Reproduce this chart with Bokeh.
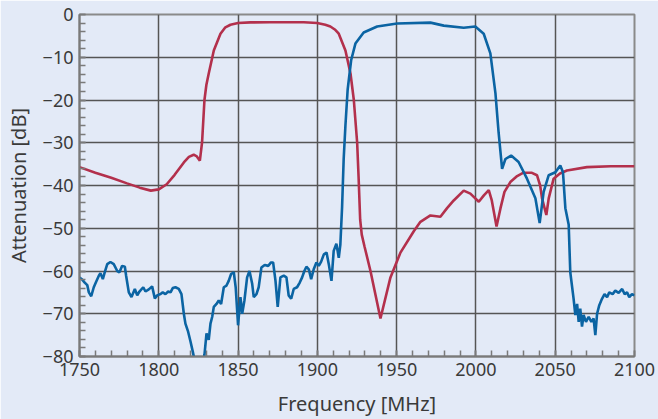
from bokeh.plotting import figure
from bokeh.models import Range1d, FixedTicker
from bokeh.embed import file_html
from bokeh.resources import INLINE

# ---- data ----
x_ticks = [1750, 1800, 1850, 1900, 1950, 2000, 2050, 2100]
y_ticks = [-80, -70, -60, -50, -40, -30, -20, -10, 0]

red_freq = [1750, 1760, 1770, 1780, 1788, 1795, 1800, 1805, 1810, 1815.8, 1819, 1822, 1824,
            1825.9, 1827.3, 1828.8, 1830, 1831.5, 1834.7, 1838.9, 1842, 1845.2, 1850, 1857.8,
            1870, 1891.4, 1899.9, 1905, 1908.2, 1911, 1913.5, 1917.7, 1920.9, 1923, 1925.1,
            1926, 1927, 1928, 1929.7, 1933.5, 1939.8, 1946.1, 1952.4, 1960.8, 1965, 1971.3,
            1977.6, 1981.8, 1986, 1992.3, 1996.5, 2001.8, 2005, 2008.1, 2010, 2013, 2015.5,
            2018, 2021.7, 2026, 2030, 2035, 2038.5, 2040.5, 2041.7, 2044.4, 2045.9, 2049,
            2053, 2057.4, 2070, 2085, 2100]
red_db = [-35.7, -37.0, -38.2, -39.5, -40.5, -41.2, -40.9, -39.7, -37.5, -34.6, -33.3, -32.8, -33.2,
          -34.2, -29.9, -20.0, -16.5, -13.8, -8.4, -4.5, -3.0, -2.4, -2.0, -1.85,
          -1.8, -1.8, -2.0, -2.4, -2.8, -3.5, -4.5, -8.4, -13.8, -20.0, -30.0,
          -38.0, -48.0, -51.5, -54.2, -60.0, -71.1, -61.5, -55.7, -50.7, -48.5, -47.0,
          -47.3, -45.3, -43.5, -41.2, -41.9, -43.8, -42.3, -41.1, -43.5, -49.6, -45.3,
          -41.5, -39.2, -37.8, -37.0, -37.0, -37.6, -40.0, -43.0, -46.9, -43.0, -38.4,
          -37.2, -36.5, -35.7, -35.5, -35.5]

blue_freq = [1750.0, 1751.7, 1753.3, 1754.9, 1755.9, 1757.4, 1759.0, 1760.5, 1762.2, 1763.2,
             1764.7, 1765.9, 1767.5, 1769.5, 1771.6, 1773.8, 1775.2, 1776.9, 1778.6, 1779.4,
             1781.1, 1782.8, 1784.9, 1786.4, 1787.8, 1790.2, 1791.6, 1793.7, 1795.8, 1797.5,
             1799.0, 1801.1, 1802.5, 1804.2, 1805.9, 1807.4, 1808.8, 1810.5, 1812.6, 1814.3,
             1815.8, 1816.8, 1818.5, 1820.0, 1821.4, 1822.7, 1825.0, 1828.4, 1828.8, 1830.1,
             1831.5, 1832.6, 1833.7, 1834.7, 1836.4, 1837.8, 1839.3, 1841.0, 1842.7, 1844.1,
             1845.6, 1847.3, 1848.5, 1850.0, 1851.5, 1852.6, 1854.0, 1855.7, 1857.2, 1858.9,
             1859.9, 1861.6, 1863.0, 1864.7, 1866.8, 1869.0, 1870.8, 1872.1, 1873.6, 1875.0,
             1876.7, 1878.8, 1880.5, 1881.9, 1883.5, 1885.1, 1887.2, 1888.9, 1890.4, 1891.8,
             1893.1, 1894.6, 1896.1, 1897.7, 1899.4, 1900.9, 1902.4, 1904.1, 1905.8, 1907.2,
             1908.9, 1910.3, 1912.0, 1913.5, 1914.5, 1915.6, 1916.6, 1917.7, 1919.1, 1921.3,
             1924.0, 1929.2, 1937.7, 1950.3, 1971.3, 1979.7, 1992.3, 1999.6, 2004.9, 2009.1,
             2012.3, 2014.3, 2016.5, 2018.6, 2022.2, 2026.9, 2032.2, 2037.5, 2040.2, 2042.7,
             2045.9, 2050.1, 2053.2, 2054.9, 2056.4, 2058.5, 2059.5, 2061.6, 2062.7, 2063.8,
             2064.8, 2065.8, 2066.9, 2067.9, 2069.4, 2071.1, 2072.8, 2074.2, 2075.3, 2076.4,
             2077.8, 2079.5, 2081.1, 2082.7, 2084.1, 2086.2, 2087.9, 2090.0, 2092.2, 2093.8,
             2095.3, 2096.7, 2098.4, 2100.0]
blue_db = [-61.5, -62.0, -62.7, -63.3, -65.0, -65.9, -63.8, -62.5, -61.1, -60.5,
           -61.9, -60.3, -58.4, -57.9, -58.4, -60.0, -60.3, -58.8, -59.0, -61.1,
           -65.0, -66.1, -64.2, -65.7, -64.8, -63.8, -64.8, -64.3, -63.6, -66.4,
           -65.7, -65.4, -65.0, -65.4, -64.8, -65.0, -64.0, -63.8, -64.2, -65.4,
           -70.0, -72.3, -74.2, -76.5, -78.8, -81.1, -83.0, -80.5, -79.6, -74.6,
           -76.1, -72.3, -70.7, -68.4, -67.7, -66.9, -67.7, -63.8, -63.4, -62.3,
           -60.7, -60.3, -63.8, -72.7, -66.1, -70.0, -66.9, -61.5, -60.0, -63.0,
           -66.1, -65.4, -63.8, -59.2, -58.6, -58.8, -58.0, -58.0, -62.3, -68.4,
           -61.5, -61.1, -61.5, -65.7, -66.5, -64.2, -63.8, -62.7, -61.5, -60.0,
           -59.0, -59.6, -61.9, -59.6, -58.0, -58.8, -57.8, -56.1, -55.7, -58.4,
           -62.3, -55.3, -53.6, -56.9, -53.8, -45.0, -33.8, -26.0, -17.6, -10.7,
           -6.8, -4.2, -2.8, -2.1, -1.9, -2.6, -3.1, -2.8, -4.5, -9.1,
           -18.4, -27.6, -36.1, -33.8, -33.0, -34.5, -38.4, -43.0, -48.8, -41.5,
           -37.6, -36.9, -35.3, -36.9, -45.3, -49.2, -60.3, -66.5, -70.3, -67.7,
           -71.9, -68.8, -73.0, -70.3, -71.9, -70.7, -71.9, -71.1, -75.0, -70.0,
           -68.0, -66.5, -65.4, -66.1, -65.0, -65.4, -64.6, -65.1, -64.2, -65.4,
           -65.0, -66.1, -65.4, -65.7]

BG = "#e3eaf7"
TXT = "#3a3a3a"
FONT = "Noto Sans"

p = figure(width=658, height=419, output_backend="svg", toolbar_location=None,
           x_range=Range1d(1750, 2100), y_range=Range1d(-80, 0),
           min_border_left=79, min_border_right=24, min_border_top=14, min_border_bottom=59,
           background_fill_color=BG, border_fill_color=BG)

p.outline_line_color = "#8a8a8a"
p.outline_line_width = 2

p.xaxis.ticker = FixedTicker(ticks=x_ticks, minor_ticks=list(range(1750, 2101, 10)))
p.yaxis.ticker = FixedTicker(ticks=y_ticks, minor_ticks=list(range(-80, 1, 2)))

for ax in (p.xaxis[0], p.yaxis[0]):
    ax.axis_line_color = "#7a7a7a"
    ax.axis_line_width = 2
    ax.major_tick_in = 6
    ax.major_tick_out = 0
    ax.minor_tick_in = 6
    ax.minor_tick_out = 0
    ax.major_tick_line_color = "#7a7a7a"
    ax.minor_tick_line_color = "#7a7a7a"
    ax.major_tick_line_width = 1.5
    ax.minor_tick_line_width = 1.5
    ax.major_label_text_font = FONT
    ax.major_label_text_font_size = "18px"
    ax.major_label_text_color = TXT
    ax.axis_label_text_font = FONT
    ax.axis_label_text_font_size = "20px"
    ax.axis_label_text_font_style = "normal"
    ax.axis_label_text_color = TXT

p.xaxis.axis_label = "Frequency [MHz]"
p.yaxis.axis_label = "Attenuation [dB]"
p.xaxis.major_label_standoff = 6
p.yaxis.major_label_standoff = 6
p.xaxis.axis_label_standoff = 11
p.yaxis.axis_label_standoff = 8

p.grid.grid_line_color = "#555555"
p.grid.grid_line_width = 1.5

p.line(red_freq, red_db, line_color="#b3304c", line_width=2.6)
p.line(blue_freq, blue_db, line_color="#0b64a3", line_width=2.6)

open("out.html", "w").write(file_html(p, INLINE))
